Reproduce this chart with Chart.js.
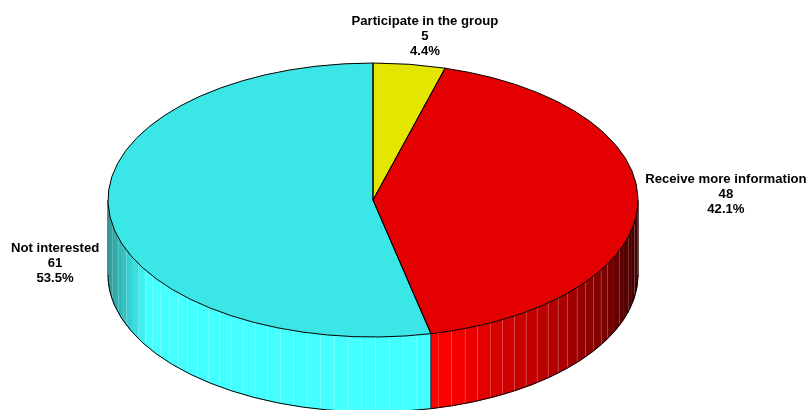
<!DOCTYPE html>
<html>
<head>
<meta charset="utf-8">
<style>
  html, body { margin: 0; padding: 0; background: #fff; overflow: hidden; }
  canvas { display: block; }
</style>
<script src="https://cdn.jsdelivr.net/npm/chart.js@4/dist/chart.umd.min.js"></script>
</head>
<body>
<canvas id="pieChart" width="808" height="410"></canvas>
<script>
const categories = ['Participate in the group', 'Receive more information', 'Not interested'];
const counts = [5, 48, 61];
const percentLabels = ['4.4%', '42.1%', '53.5%'];
const topColors = ['#e4e600', '#e40000', '#3ae6e6'];
const sideColors = ['#ffff00', '#ff0000', '#44ffff'];

// tilt of the pie and height of the wall
const squash = 137 / 265;
const depth = 75;
const facetStep = Math.PI / 60;
const facetPhase = [0, 0.8, 2.5].map(d => d * Math.PI / 180);
// label block centre relative to the rim point at the middle of the slice
const labelOffsets = [[15.5, -28], [88, -9], [-54.5, 48]];

// wall gets darker towards the sides
function wallShade(t) {
  if (t < 0) {
    return t > -0.85 ? 1 : 1 - (-t - 0.85) / 0.15 * 0.4;
  }
  if (t < 0.25) return 1;
  if (t < 0.7) return 1 - (t - 0.25) / 0.45 * 0.31;
  if (t < 0.9) return 0.69 - (t - 0.7) / 0.2 * 0.24;
  return 0.45 - (t - 0.9) / 0.1 * 0.2;
}

function shadeColor(hex, f) {
  const n = parseInt(hex.slice(1), 16);
  const r = Math.round((n >> 16 & 255) * f);
  const g = Math.round((n >> 8 & 255) * f);
  const b = Math.round((n & 255) * f);
  return 'rgb(' + r + ',' + g + ',' + b + ')';
}

function facetPath(ctx, arc, from, to) {
  const ry = arc.outerRadius * squash;
  ctx.beginPath();
  ctx.ellipse(arc.x, arc.y, arc.outerRadius, ry, 0, from, to);
  ctx.ellipse(arc.x, arc.y + depth, arc.outerRadius, ry, 0, to, from, true);
  ctx.closePath();
}

const pie3d = {
  id: 'pie3d',
  beforeDatasetsDraw(chart) {
    const ctx = chart.ctx;
    const arcs = chart.getDatasetMeta(0).data;
    arcs.forEach((arc, i) => {
      const a0 = Math.max(arc.startAngle, 0);
      const a1 = Math.min(arc.endAngle, Math.PI);
      if (a1 <= a0) return;
      const cuts = [a0];
      let c = Math.ceil((a0 - facetPhase[i]) / facetStep) * facetStep + facetPhase[i];
      for (; c < a1; c += facetStep) {
        if (c > a0) cuts.push(c);
      }
      cuts.push(a1);
      ctx.save();
      for (let k = 0; k < cuts.length - 1; k++) {
        const mid = (cuts[k] + cuts[k + 1]) / 2;
        const col = shadeColor(sideColors[i], wallShade(Math.cos(mid)));
        facetPath(ctx, arc, cuts[k], cuts[k + 1]);
        ctx.fillStyle = col;
        ctx.strokeStyle = col;
        ctx.lineWidth = 0.6;
        ctx.fill();
        ctx.stroke();
      }
      // thin light seams between the facets, fewer where they bunch up at the sides
      ctx.strokeStyle = 'rgba(255,255,255,0.22)';
      ctx.lineWidth = 1;
      for (let k = 1; k < cuts.length - 1; k++) {
        if (Math.abs(Math.cos(cuts[k])) > 0.9 && k % 2) continue;
        const x = Math.round(arc.x + arc.outerRadius * Math.cos(cuts[k])) + 0.5;
        const y = arc.y + arc.outerRadius * squash * Math.sin(cuts[k]);
        ctx.beginPath();
        ctx.moveTo(x, y);
        ctx.lineTo(x, y + depth);
        ctx.stroke();
      }
      // lower rim
      ctx.strokeStyle = '#000';
      ctx.lineWidth = 1;
      ctx.beginPath();
      ctx.ellipse(arc.x, arc.y + depth, arc.outerRadius, arc.outerRadius * squash, 0, a0, a1);
      ctx.stroke();
      // edge of the wall
      ctx.strokeStyle = 'rgba(0,0,0,0.45)';
      [a0, a1].forEach(a => {
        if (a === 0 || a === Math.PI) {
          const x = arc.x + arc.outerRadius * Math.cos(a);
          ctx.beginPath();
          ctx.moveTo(x, arc.y);
          ctx.lineTo(x, arc.y + depth);
          ctx.stroke();
        }
      });
      ctx.restore();
    });

    // slice boundary that runs down the front of the wall
    arcs.forEach(arc => {
      if (arc.startAngle > 0 && arc.startAngle < Math.PI) {
        const x = arc.x + arc.outerRadius * Math.cos(arc.startAngle);
        const y = arc.y + arc.outerRadius * squash * Math.sin(arc.startAngle);
        ctx.save();
        ctx.strokeStyle = '#000';
        ctx.lineWidth = 1;
        ctx.beginPath();
        ctx.moveTo(x, y);
        ctx.lineTo(x, y + depth);
        ctx.stroke();
        ctx.restore();
      }
    });

    // the library draws the top face, flattened by this transform
    const first = arcs[0];
    ctx.save();
    ctx.translate(first.x, first.y);
    ctx.scale(1, squash);
    ctx.translate(-first.x, -first.y);
  },
  afterDatasetsDraw(chart) {
    const ctx = chart.ctx;
    ctx.restore();
    const arcs = chart.getDatasetMeta(0).data;

    arcs.forEach(arc => {
      ctx.save();
      ctx.translate(arc.x, arc.y);
      ctx.scale(1, squash);
      ctx.beginPath();
      ctx.moveTo(0, 0);
      ctx.arc(0, 0, arc.outerRadius, arc.startAngle, arc.endAngle);
      ctx.closePath();
      ctx.restore();
      ctx.strokeStyle = '#000';
      ctx.lineWidth = 1;
      ctx.stroke();
    });

    ctx.save();
    ctx.font = 'bold 13.15px "Liberation Sans", Arial, sans-serif';
    ctx.fillStyle = '#000';
    ctx.textAlign = 'center';
    ctx.textBaseline = 'middle';
    arcs.forEach((arc, i) => {
      const mid = (arc.startAngle + arc.endAngle) / 2;
      const x = arc.x + arc.outerRadius * Math.cos(mid) + labelOffsets[i][0];
      const y = arc.y + arc.outerRadius * squash * Math.sin(mid) + labelOffsets[i][1];
      ctx.fillText(categories[i], x, y - 15);
      ctx.fillText(String(counts[i]), x, y);
      ctx.fillText(percentLabels[i], x, y + 15);
    });
    ctx.restore();
  }
};

new Chart(document.getElementById('pieChart').getContext('2d'), {
  type: 'pie',
  data: {
    labels: categories,
    datasets: [{
      data: counts,
      backgroundColor: topColors,
      borderWidth: 0,
      clip: false
    }]
  },
  options: {
    responsive: false,
    animation: false,
    radius: 265,
    layout: { padding: { right: 62, bottom: 10 } },
    plugins: {
      legend: { display: false },
      tooltip: { enabled: false }
    }
  },
  plugins: [pie3d]
});
</script>
</body>
</html>
